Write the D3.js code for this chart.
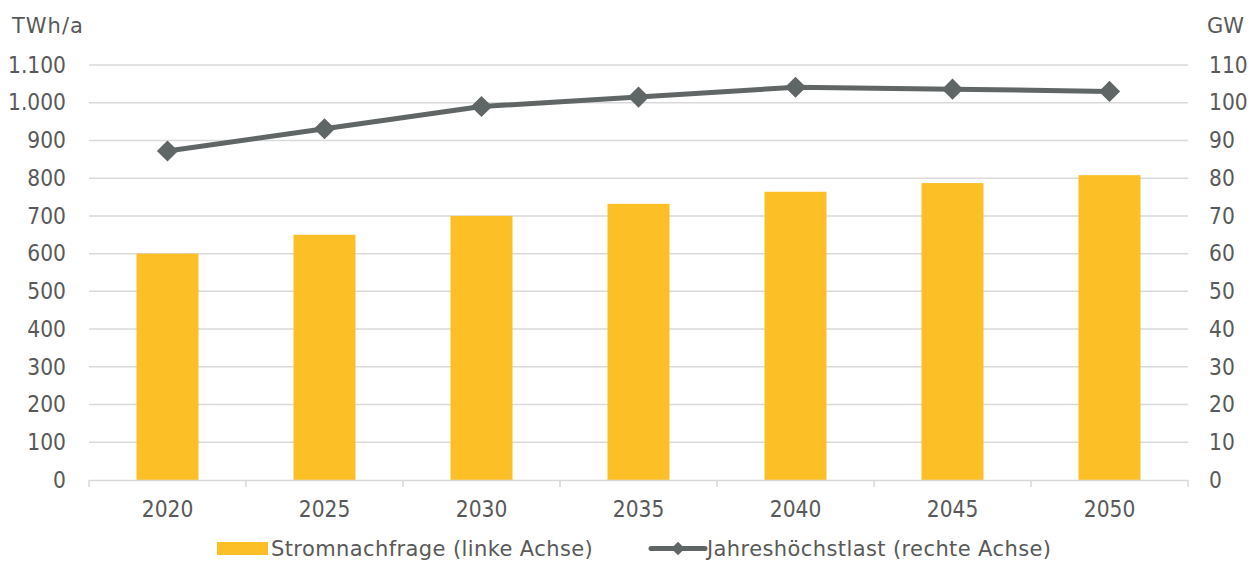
<!DOCTYPE html>
<html><head><meta charset="utf-8">
<script src="https://cdn.jsdelivr.net/npm/d3@7"></script>
<style>body{margin:0;background:#fff}svg{display:block}text{font-family:"DejaVu Sans Condensed","DejaVu Sans",sans-serif;fill:#595959}
.wide{font-family:"DejaVu Sans",sans-serif}</style>
</head><body><svg id="c" width="1260" height="562"></svg>
<script>
const years = ["2020","2025","2030","2035","2040","2045","2050"];
const demand = [600, 650, 700, 732, 764, 787, 808];
const peak = [87.2, 93.1, 99.0, 101.5, 104.1, 103.6, 103.0];
const leftTicks = [0,100,200,300,400,500,600,700,800,900,1000,1100];
const rightTicks = [0,10,20,30,40,50,60,70,80,90,100,110];
const leftUnit = "TWh/a", rightUnit = "GW";
const legendLabels = ["Stromnachfrage (linke Achse)", "Jahreshöchstlast (rechte Achse)"];

const svg = d3.select("#c");
const L = 89, R = 1188, T = 65, B = 480;
const x = d3.scaleBand().domain(years).range([L, R]).padding(0);
const yL = d3.scaleLinear().domain([0, 1100]).range([B, T]);
const yR = d3.scaleLinear().domain([0, 110]).range([B, T]);
const fmt = d3.format(",");
const de = v => fmt(v).replace(/,/g, ".");
const TF = "22.5px";

// gridlines
svg.append("g").selectAll("line").data(leftTicks.filter(d => d > 0)).join("line")
  .attr("x1", L).attr("x2", R).attr("y1", d => yL(d)).attr("y2", d => yL(d))
  .attr("stroke", "#d9d9d9").attr("stroke-width", 1.5);

// bars
const bw = x.bandwidth() * 0.395;
svg.append("g").selectAll("rect").data(years).join("rect")
  .attr("x", (d) => x(d) + x.bandwidth()/2 - bw/2)
  .attr("width", bw)
  .attr("y", (d,i) => yL(demand[i]))
  .attr("height", (d,i) => B - yL(demand[i]))
  .attr("fill", "#fdbf26");

// x axis
const xa = svg.append("g").attr("transform", `translate(0,${B})`)
  .call(d3.axisBottom(x).tickSize(0).tickPadding(21));
xa.select(".domain").attr("stroke", "#d9d9d9").attr("stroke-width", 1.5);
xa.attr("font-family", null).attr("font-size", null);
xa.selectAll("text").style("font-size", TF).attr("fill", "#595959");
svg.append("g").selectAll("line").data(years.concat(["end"])).join("line")
  .attr("x1", (d,i) => L + i*x.step()).attr("x2", (d,i) => L + i*x.step())
  .attr("y1", B).attr("y2", B + 7).attr("stroke", "#d9d9d9").attr("stroke-width", 1.5);

// left axis
const la = svg.append("g").attr("transform", `translate(66,0)`)
  .call(d3.axisLeft(yL).tickValues(leftTicks).tickFormat(de).tickSize(0).tickPadding(0));
la.select(".domain").remove();
la.attr("font-family", null).attr("font-size", null);
la.selectAll("text").style("font-size", TF).attr("fill", "#595959");

// right axis
const ra = svg.append("g").attr("transform", `translate(1209,0)`)
  .call(d3.axisRight(yR).tickValues(rightTicks).tickSize(0).tickPadding(0));
ra.select(".domain").remove();
ra.attr("font-family", null).attr("font-size", null);
ra.selectAll("text").style("font-size", TF).attr("fill", "#595959");

// units
svg.append("text").attr("class", "wide").attr("x", 12).attr("y", 33).style("font-size", "21px")
  .style("letter-spacing", "1px").text(leftUnit);
svg.append("text").attr("class", "wide").attr("x", 1207).attr("y", 33).style("font-size", "21px").text(rightUnit);

// line
const cx = d => x(d) + x.bandwidth()/2;
const line = d3.line().x((d,i) => cx(years[i])).y(d => yR(d));
svg.append("path").datum(peak).attr("d", line).attr("fill", "none")
  .attr("stroke", "#5f6665").attr("stroke-width", 5).attr("stroke-linejoin", "round");
svg.append("g").selectAll("path").data(peak).join("path")
  .attr("d", d3.symbol().type(d3.symbolSquare).size(225))
  .attr("transform", (d,i) => `translate(${cx(years[i])},${yR(d)}) rotate(45)`)
  .attr("fill", "#5f6665");

// legend
const lg = svg.append("g");
lg.append("rect").attr("x", 217).attr("y", 542).attr("width", 51).attr("height", 13).attr("fill", "#fdbf26");
lg.append("text").attr("class", "wide").attr("x", 271).attr("y", 556).style("font-size", "21px")
  .style("letter-spacing", "0.4px").text(legendLabels[0]);
lg.append("line").attr("x1", 651).attr("x2", 705).attr("y1", 548.5).attr("y2", 548.5)
  .attr("stroke", "#5f6665").attr("stroke-width", 5).attr("stroke-linecap", "round");
lg.append("path").attr("d", d3.symbol().type(d3.symbolSquare).size(90)())
  .attr("transform", "translate(678,548.5) rotate(45)").attr("fill", "#5f6665");
lg.append("text").attr("class", "wide").attr("x", 707).attr("y", 556).style("font-size", "21px")
  .style("letter-spacing", "0.4px").text(legendLabels[1]);
</script></body></html>
